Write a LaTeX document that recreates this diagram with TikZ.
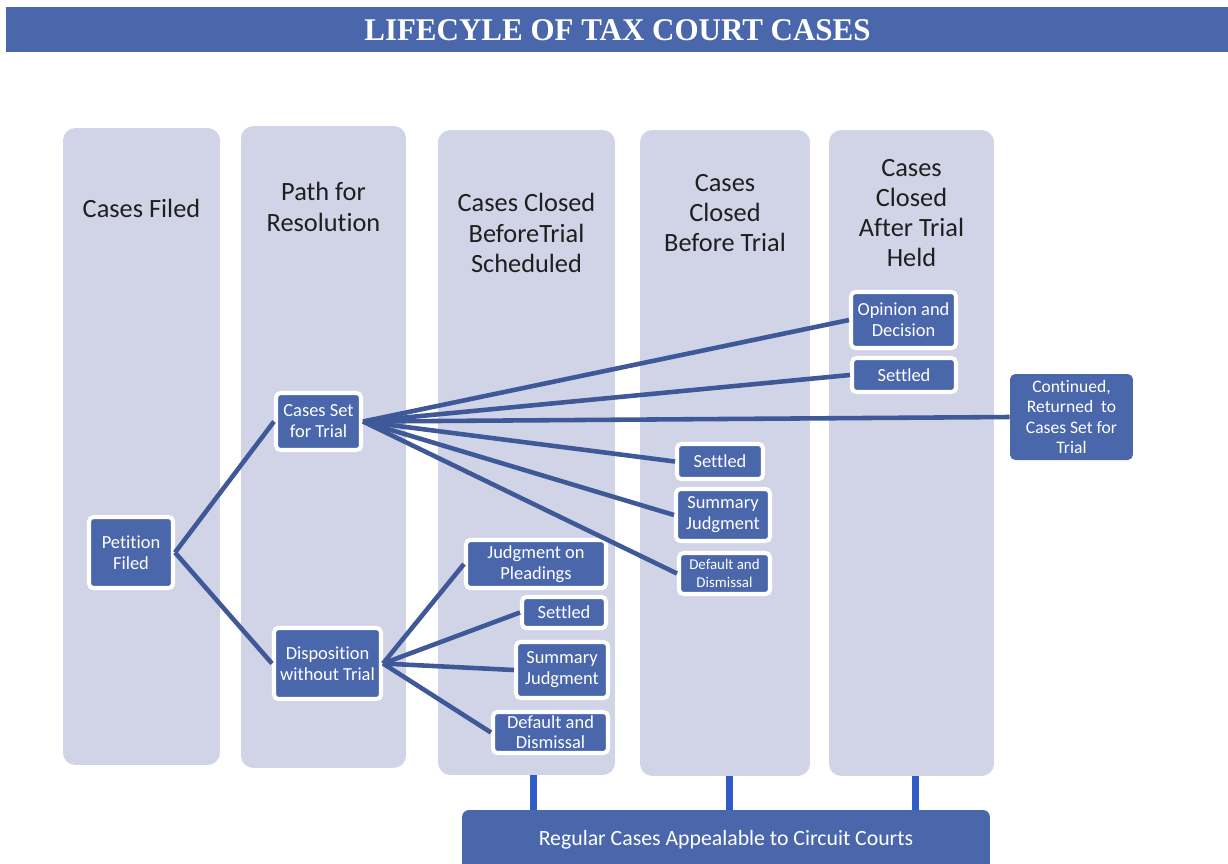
\documentclass[tikz,border=0pt]{standalone}
\usepackage{fontspec}
\setmainfont{Carlito}[Ligatures=NoCommon]
\newfontfamily\titlefont{Liberation Serif}

\definecolor{barblue}{RGB}{74,103,172}
\definecolor{lanefill}{RGB}{208,212,230}
\definecolor{linkblue}{RGB}{62,88,152}
\definecolor{dropblue}{RGB}{47,92,198}

\tikzset{
  lane/.style={fill=lanefill,rounded corners=7pt,inner sep=0pt},
  lanehead/.style={font=\fontsize{15}{17.2}\selectfont,align=center,text=black!88},
  stepbox/.style={fill=barblue,draw=white,line width=2.3pt,rounded corners=2.5pt,text=white,align=center,font=\fontsize{10.5}{12}\selectfont,inner sep=1pt},
  link/.style={draw=linkblue,line width=2.6pt},
  drop/.style={draw=dropblue,line width=4pt},
}

\begin{document}
\begin{tikzpicture}[x=0.02cm,y=-0.02cm]
\useasboundingbox (0,0) rectangle (1228,863);
\node[fill=barblue,minimum width=24.44cm,minimum height=0.9cm,inner sep=0pt] (bar) at (617,29.5) {};
\node[text=white,font=\titlefont\bfseries\fontsize{18}{20}\selectfont,xscale=0.98] (ttl) at (617.5,30) {LIFECYLE OF TAX COURT CASES};
\node[lane,minimum width=3.14cm,minimum height=12.74cm] (c1) at (141.5,446.5) {};
\node[lane,minimum width=3.3cm,minimum height=12.84cm] (c2) at (323.5,447) {};
\node[lane,minimum width=3.54cm,minimum height=12.9cm] (c3) at (526.5,452.5) {};
\node[lane,minimum width=3.4cm,minimum height=12.92cm] (c4) at (725,453) {};
\node[lane,minimum width=3.3cm,minimum height=12.92cm] (c5) at (911.5,453) {};
\node[lanehead] (h1) at (141.5,208) {Cases Filed};
\node[lanehead] (h2) at (323.5,207) {Path for\\Resolution};
\node[lanehead] (h3) at (526.5,233) {Cases Closed\\BeforeTrial\\Scheduled};
\node[lanehead] (h4) at (725,213) {Cases\\Closed\\Before Trial};
\node[lanehead] (h5) at (911.5,213) {Cases\\Closed\\After Trial\\Held};
\node[stepbox,minimum width=1.68cm,minimum height=1.42cm] (pf) at (131,552.5) {Petition\\Filed};
\node[stepbox,minimum width=1.7cm,minimum height=1.14cm] (cst) at (318.5,421.5) {Cases Set\\for Trial};
\node[stepbox,minimum width=2.14cm,minimum height=1.42cm] (dwt) at (327.5,663.5) {Disposition\\without Trial};
\node[stepbox,minimum width=2.8cm,minimum height=0.96cm] (jop) at (536,564) {Judgment on\\Pleadings};
\node[stepbox,minimum width=1.68cm,minimum height=0.62cm] (set3) at (564,612.5) {Settled};
\node[stepbox,minimum width=1.84cm,minimum height=1.12cm] (sj3) at (562,670) {Summary\\Judgment};
\node[stepbox,minimum width=2.3cm,minimum height=0.82cm,font=\fontsize{10.5}{11.5}\selectfont] (dd3) at (550.5,732.5) {Default and\\Dismissal};
\node[stepbox,minimum width=1.72cm,minimum height=0.7cm] (set4) at (720,461.5) {Settled};
\node[stepbox,minimum width=1.88cm,minimum height=1.04cm] (sj4) at (723,515) {Summary\\Judgment};
\node[stepbox,minimum width=1.82cm,minimum height=0.82cm,font=\fontsize{8.5}{10}\selectfont] (dd4) at (724.5,573.5) {Default and\\Dismissal};
\node[stepbox,minimum width=2.1cm,minimum height=1.12cm] (od) at (903.5,320) {Opinion and\\Decision};
\node[stepbox,minimum width=2.08cm,minimum height=0.68cm] (set5) at (904,375) {Settled};
\node[fill=barblue,rounded corners=3pt,text=white,align=center,font=\fontsize{10}{11.6}\selectfont,minimum width=2.46cm,minimum height=1.72cm,inner sep=1pt] (cont) at (1071.5,417) {Continued,\\Returned~ to\\Cases Set for\\Trial};
\node[fill=barblue,rounded corners=4pt,minimum width=10.56cm,minimum height=1.3cm,inner sep=0pt] (appeal) at (726,842.5) {};
\node[text=white,font=\fontsize{12.4}{14}\selectfont] (appealtxt) at (726,840) {Regular Cases Appealable to Circuit Courts};
\draw[link] (pf.east) -- (cst.west);
\draw[link] (pf.east) -- (dwt.west);
\draw[link] (cst.east) -- (od.west);
\draw[link] (cst.east) -- (set5.west);
\draw[link] (cst.east) -- (cont.west);
\draw[link] (cst.east) -- (set4.west);
\draw[link] (cst.east) -- (sj4.west);
\draw[link] (cst.east) -- (dd4.west);
\draw[link] (dwt.east) -- (jop.west);
\draw[link] (dwt.east) -- (set3.west);
\draw[link] (dwt.east) -- (sj3.west);
\draw[link] (dwt.east) -- (dd3.west);
\draw[drop] ([xshift=4.25pt]c3.south) -- ([xshift=4.25pt]c3.south |- appeal.north);
\draw[drop] ([xshift=2.3pt]c4.south) -- ([xshift=2.3pt]c4.south |- appeal.north);
\draw[drop] ([xshift=2pt]c5.south) -- ([xshift=2pt]c5.south |- appeal.north);
\end{tikzpicture}
\end{document}
